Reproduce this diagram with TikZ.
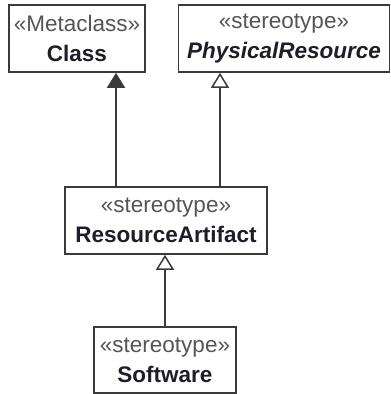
\documentclass[tikz,border=0pt]{standalone}
\usepackage{fontspec}
\setmainfont{Liberation Sans}
\usetikzlibrary{arrows.meta}
\definecolor{umlline}{RGB}{58, 58, 58}
\definecolor{umlstereo}{RGB}{85, 85, 85}
\definecolor{umlname}{RGB}{30, 30, 40}

\begin{document}
\begin{tikzpicture}[
    x=1pt, y=1pt,
    umlbox/.style={draw=umlline, line width=1.6pt, fill=white, align=center,
        inner sep=0pt, minimum height=67pt, font=\fontsize{22.5}{30}\selectfont},
    general/.style={-{Triangle[open, length=15pt, width=18pt, fill=white]}, line width=1.5pt, draw=umlline},
    metaext/.style={-{Triangle[length=15pt, width=18pt]}, line width=1.5pt, draw=umlline}
]
\useasboundingbox (0,0) rectangle (391,-394);

% === Metaclass Class ===
\node[umlbox, minimum width=136pt] (cls) at (77,-38.5)
    {{\color{umlstereo}«Metaclass»}\\\textcolor{umlname}{\textbf{Class}}};

% === Stereotype PhysicalResource (abstract) ===
\node[umlbox, minimum width=211pt] (phys) at (284,-38.5)
    {{\color{umlstereo}«stereotype»}\\\textcolor{umlname}{\textbf{\textit{PhysicalResource}}}};

% === Stereotype ResourceArtifact ===
\node[umlbox, minimum width=202pt] (ra) at (166,-220.5)
    {{\color{umlstereo}«stereotype»}\\\textcolor{umlname}{\textbf{ResourceArtifact}}};

% === Stereotype Software ===
\node[umlbox, minimum width=142pt, minimum height=66pt] (sw) at (165,-360)
    {{\color{umlstereo}«stereotype»}\\\textcolor{umlname}{\textbf{Software}}};

% === Connectors ===
\coordinate (xcls) at (116,0);
\coordinate (xphys) at (220,0);
\draw[metaext] (ra.north -| xcls) -- (cls.south -| xcls);    % extension
\draw[general] (ra.north -| xphys) -- (phys.south -| xphys); % generalization
\draw[general] (sw.north) -- (sw.north |- ra.south);         % generalization

\end{tikzpicture}
\end{document}
